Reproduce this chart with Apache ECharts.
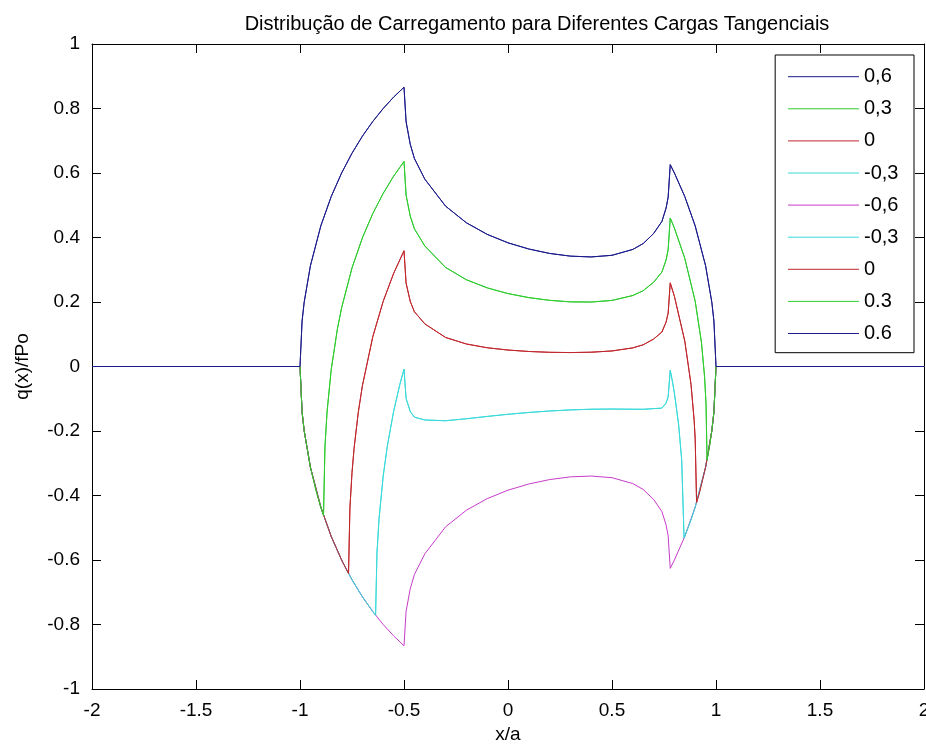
<!DOCTYPE html>
<html>
<head>
<meta charset="utf-8">
<script src="https://cdn.jsdelivr.net/npm/echarts@6/dist/echarts.min.js"></script>
<style>html,body{margin:0;padding:0;background:#fff;}#c{width:926px;height:751px;}</style>
</head>
<body>
<div id="c"></div>
<script>
const chartTitle = 'Distribução de Carregamento para Diferentes Cargas Tangenciais';
const xName = 'x/a';
const yName = 'q(x)/fPo';
const seriesNames = ['0,6', '0,3', '0', '-0,3', '-0,6', '-0,3 ', '0 ', '0.3', '0.6'];
const seriesColors = ['#1c1c8c', '#2ecc2e', '#c0282d', '#3adada', '#c83cc8', '#3adada', '#c0282d', '#2ecc2e', '#1c1c8c'];

const xBlue = [-2, -1, -0.99, -0.98, -0.95, -0.9, -0.85, -0.8, -0.75, -0.7, -0.65, -0.6, -0.55, -0.5, -0.49, -0.47, -0.45, -0.4, -0.3, -0.2, -0.1, 0, 0.1, 0.2, 0.3, 0.4, 0.5, 0.6, 0.65, 0.7, 0.74, 0.76, 0.77, 0.78, 0.8, 0.85, 0.9, 0.95, 0.98, 0.99, 1, 2];
const yBlue = [0, 0, 0.1411, 0.199, 0.3122, 0.4359, 0.5268, 0.6, 0.6614, 0.7141, 0.7599, 0.8, 0.8352, 0.866, 0.759, 0.6891, 0.645, 0.581, 0.4971, 0.4456, 0.4097, 0.3835, 0.3643, 0.3506, 0.3422, 0.3397, 0.3448, 0.363, 0.3812, 0.4123, 0.4499, 0.4912, 0.5253, 0.6258, 0.6, 0.5268, 0.4359, 0.3122, 0.199, 0.1411, 0, 0];

const xGreen = [-2, -1, -0.99, -0.98, -0.95, -0.92, -0.9, -0.887, -0.88, -0.87, -0.85, -0.82, -0.8, -0.75, -0.7, -0.65, -0.6, -0.55, -0.5, -0.49, -0.47, -0.45, -0.4, -0.3, -0.2, -0.1, 0, 0.1, 0.2, 0.3, 0.4, 0.5, 0.6, 0.65, 0.7, 0.74, 0.76, 0.77, 0.78, 0.8, 0.85, 0.9, 0.93, 0.945, 0.952, 0.957, 0.97, 0.98, 0.99, 1, 2];
const yGreen = [0, 0, -0.1411, -0.199, -0.3122, -0.3919, -0.4359, -0.4618, -0.2489, -0.1411, -0.01, 0.1175, 0.1817, 0.3056, 0.399, 0.4742, 0.5368, 0.59, 0.6357, 0.5313, 0.4664, 0.4271, 0.3737, 0.3071, 0.269, 0.2438, 0.2261, 0.2136, 0.2051, 0.2004, 0.1999, 0.2049, 0.2201, 0.2351, 0.2612, 0.2929, 0.3304, 0.3624, 0.4605, 0.4291, 0.3353, 0.2022, 0.075, -0.0311, -0.1152, -0.2901, -0.2431, -0.199, -0.1411, 0, 0];

const xRed = [-2, -1, -0.99, -0.98, -0.95, -0.9, -0.85, -0.8, -0.7667, -0.76, -0.75, -0.74, -0.72, -0.7, -0.65, -0.6, -0.55, -0.5, -0.49, -0.47, -0.45, -0.4, -0.3, -0.2, -0.1, 0, 0.1, 0.2, 0.3, 0.4, 0.5, 0.6, 0.65, 0.7, 0.74, 0.76, 0.77, 0.78, 0.8, 0.85, 0.88, 0.895, 0.9, 0.9067, 0.92, 0.95, 0.98, 0.99, 1, 2];
const yRed = [0, 0, -0.1411, -0.199, -0.3122, -0.4359, -0.5268, -0.6, -0.642, -0.4392, -0.3292, -0.2536, -0.143, -0.0596, 0.0924, 0.2022, 0.2884, 0.3589, 0.2588, 0.2019, 0.1698, 0.1323, 0.09, 0.0698, 0.0581, 0.051, 0.0466, 0.044, 0.0432, 0.0443, 0.0482, 0.0578, 0.0673, 0.0851, 0.1069, 0.1377, 0.1657, 0.2594, 0.2176, 0.0785, -0.0559, -0.1677, -0.2252, -0.4218, -0.3919, -0.3122, -0.199, -0.1411, 0, 0];

const xCyan = [-2, -1, -0.99, -0.98, -0.95, -0.9, -0.85, -0.8, -0.75, -0.7, -0.65, -0.6366, -0.63, -0.62, -0.6, -0.58, -0.55, -0.52, -0.5, -0.49, -0.47, -0.45, -0.4, -0.3, -0.2, -0.1, 0, 0.1, 0.2, 0.3, 0.4, 0.5, 0.6, 0.65, 0.7, 0.74, 0.76, 0.77, 0.78, 0.79, 0.8, 0.82, 0.835, 0.8466, 0.88, 0.9, 0.95, 0.98, 0.99, 1, 2];
const yCyan = [0, 0, -0.1411, -0.199, -0.3122, -0.4359, -0.5268, -0.6, -0.6614, -0.7141, -0.7599, -0.7712, -0.5789, -0.4723, -0.3397, -0.2462, -0.1395, -0.0557, -0.0082, -0.0991, -0.1395, -0.1572, -0.1658, -0.1682, -0.162, -0.1548, -0.1482, -0.1425, -0.138, -0.1346, -0.1325, -0.1319, -0.1325, -0.1327, -0.1306, -0.1291, -0.113, -0.0942, -0.0114, -0.0447, -0.0824, -0.1785, -0.2887, -0.5322, -0.475, -0.4359, -0.3122, -0.199, -0.1411, 0, 0];

const xMagenta = [-2, -1, -0.99, -0.98, -0.95, -0.9, -0.85, -0.8, -0.75, -0.7, -0.65, -0.6, -0.55, -0.5, -0.49, -0.47, -0.45, -0.4, -0.3, -0.2, -0.1, 0, 0.1, 0.2, 0.3, 0.4, 0.5, 0.6, 0.65, 0.7, 0.74, 0.76, 0.77, 0.78, 0.8, 0.85, 0.9, 0.95, 0.98, 0.99, 1, 2];
const yMagenta = [0, 0, -0.1411, -0.199, -0.3122, -0.4359, -0.5268, -0.6, -0.6614, -0.7141, -0.7599, -0.8, -0.8352, -0.866, -0.759, -0.6891, -0.645, -0.581, -0.4971, -0.4456, -0.4097, -0.3835, -0.3643, -0.3506, -0.3422, -0.3397, -0.3448, -0.363, -0.3812, -0.4123, -0.4499, -0.4912, -0.5253, -0.6258, -0.6, -0.5268, -0.4359, -0.3122, -0.199, -0.1411, 0, 0];

const xTicks = [-2, -1.5, -1, -0.5, 0, 0.5, 1, 1.5, 2];
const yTicks = [-1, -0.8, -0.6, -0.4, -0.2, 0, 0.2, 0.4, 0.6, 0.8, 1];

const seriesX = [xBlue, xGreen, xRed, xCyan, xMagenta, xCyan, xRed, xGreen, xBlue];
const seriesY = [yBlue, yGreen, yRed, yCyan, yMagenta, yCyan, yRed, yGreen, yBlue];

const FONT = "'Liberation Sans', Arial, sans-serif";
const chart = echarts.init(document.getElementById('c'), null, {renderer: 'canvas'});

const series = seriesNames.map((name, i) => ({
  name: name,
  type: 'line',
  xAxisIndex: 0,
  yAxisIndex: 0,
  symbol: 'none',
  showSymbol: false,
  animation: false,
  color: seriesColors[i],
  lineStyle: {width: 1, color: seriesColors[i]},
  data: seriesX[i].map((x, k) => [x, seriesY[i][k]])
}));

const axisCommon = {
  type: 'value',
  axisLine: {show: true, onZero: false, lineStyle: {color: '#000', width: 1}},
  axisTick: {show: true, inside: true, length: 9, lineStyle: {color: '#000'}},
  splitLine: {show: false}
};

chart.setOption({
  backgroundColor: '#ffffff',
  animation: false,
  title: {
    text: chartTitle,
    left: 532,
    textAlign: 'center',
    top: 9,
    textStyle: {fontFamily: FONT, fontSize: 20, fontWeight: 'normal', color: '#000'}
  },
  legend: {
    data: seriesNames,
    orient: 'vertical',
    right: 12,
    top: 55,
    itemWidth: 71,
    itemHeight: 14,
    itemGap: 12.1,
    padding: [11.7, 10, 9.2, 12.3],
    backgroundColor: '#fff',
    borderColor: '#000',
    borderWidth: 1,
    borderRadius: 0,
    selectedMode: false,
    itemStyle: {opacity: 0, color: 'rgba(0,0,0,0)', borderWidth: 0},
    lineStyle: {width: 1},
    textStyle: {fontFamily: FONT, fontSize: 20, color: '#000', lineHeight: 20}
  },
  grid: {left: 92, right: 2, top: 44, bottom: 62, containLabel: false, outerBoundsMode: 'none'},
  xAxis: [
    Object.assign({}, axisCommon, {
      position: 'bottom', min: xTicks[0], max: xTicks[xTicks.length - 1], interval: 0.5,
      name: xName, nameLocation: 'middle', nameGap: 31,
      nameTextStyle: {fontFamily: FONT, fontSize: 19, color: '#000'},
      axisLabel: {show: true, margin: 12, fontFamily: FONT, fontSize: 19, color: '#000', showMaxLabel: true, showMinLabel: true}
    }),
    Object.assign({}, axisCommon, {
      position: 'top', min: xTicks[0], max: xTicks[xTicks.length - 1], interval: 0.5,
      axisLabel: {show: false}
    })
  ],
  yAxis: [
    Object.assign({}, axisCommon, {
      position: 'left', min: yTicks[0], max: yTicks[yTicks.length - 1], interval: 0.2,
      name: yName, nameLocation: 'middle', nameGap: 60, nameRotate: 90,
      nameTextStyle: {fontFamily: FONT, fontSize: 19, color: '#000'},
      axisLabel: {show: true, margin: 12, fontFamily: FONT, fontSize: 19, color: '#000'}
    }),
    Object.assign({}, axisCommon, {
      position: 'right', min: yTicks[0], max: yTicks[yTicks.length - 1], interval: 0.2,
      axisLabel: {show: false}
    })
  ],
  series: series
});
</script>
</body>
</html>
